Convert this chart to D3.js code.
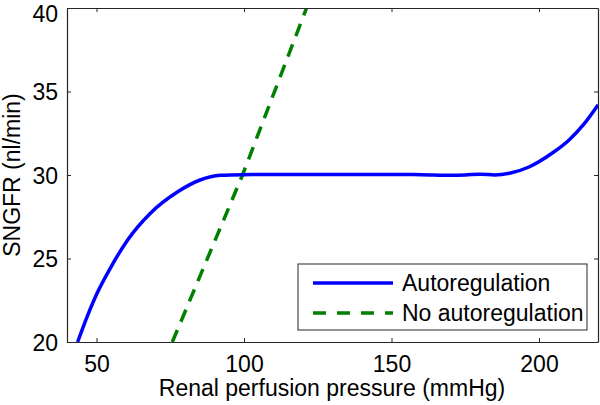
<!DOCTYPE html>
<html><head><meta charset="utf-8">
<script src="https://cdn.jsdelivr.net/npm/d3@7"></script>
<style>body{margin:0;background:#fff}svg{display:block}text{font-family:Arial,"Liberation Sans",sans-serif;fill:#000}</style>
</head><body><svg id="c" width="600" height="405"></svg>
<script>
const autoP = [43.6, 47, 50, 54.7, 60.5, 68.2, 77.4, 85.1, 91.9, 100, 110, 120, 130, 140, 150, 160, 170, 175, 180, 185, 190, 196.6, 204.4, 210.2, 215, 220];
const autoS = [20, 21.6, 22.85, 24.43, 26.1, 27.7, 28.98, 29.7, 29.98, 30.02, 30.03, 30.03, 30.03, 30.03, 30.03, 30.02, 29.98, 30.0, 30.05, 30.0, 30.1, 30.48, 31.3, 32.1, 33.0, 34.2];
const noAutoP = [75.7, 99.5, 121.2];
const noAutoS = [20, 30, 40];
const xTicks = [50, 100, 150, 200];
const yTicks = [20, 25, 30, 35, 40];
const legendLabels = ["Autoregulation", "No autoregulation"];

const svg = d3.select("#c");
const L = 67, R = 598, T = 8, B = 342;
const FS = 23;
const x = d3.scaleLinear().domain([40, 220]).range([L, R]);
const y = d3.scaleLinear().domain([20, 40]).range([B, T]);
const axisCol = "#262626";

svg.append("defs").append("clipPath").attr("id", "clip")
  .append("rect").attr("x", L).attr("y", T).attr("width", R - L).attr("height", B - T);

const plot = svg.append("g").attr("clip-path", "url(#clip)");
const line = d3.line().x(d => x(d[0])).y(d => y(d[1])).curve(d3.curveMonotoneX);
plot.append("path").datum(noAutoP.map((p, i) => [p, noAutoS[i]]))
  .attr("d", d3.line().x(d => x(d[0])).y(d => y(d[1])))
  .attr("fill", "none").attr("stroke", "#008000").attr("stroke-width", 3.5).attr("stroke-dasharray", "13,9");
plot.append("path").datum(autoP.map((p, i) => [p, autoS[i]]))
  .attr("d", line).attr("fill", "none").attr("stroke", "#0000ff").attr("stroke-width", 3.5);

// axes
const tl = 4;
const gB = svg.append("g").attr("transform", `translate(0,${B})`)
  .call(d3.axisBottom(x).tickValues(xTicks).tickSizeInner(-tl).tickSizeOuter(0));
const gT = svg.append("g").attr("transform", `translate(0,${T})`)
  .call(d3.axisTop(x).tickValues(xTicks).tickSizeInner(-tl).tickSizeOuter(0).tickFormat(""));
const gL = svg.append("g").attr("transform", `translate(${L},0)`)
  .call(d3.axisLeft(y).tickValues(yTicks).tickSizeInner(-tl).tickSizeOuter(0).tickPadding(9));
const gR = svg.append("g").attr("transform", `translate(${R},0)`)
  .call(d3.axisRight(y).tickValues(yTicks).tickSizeInner(-tl).tickSizeOuter(0).tickFormat(""));
[gB, gT, gL, gR].forEach(g => {
  g.select(".domain").attr("stroke", axisCol).attr("stroke-width", 1.2);
  g.selectAll(".tick line").attr("stroke", axisCol).attr("stroke-width", 1);
  g.selectAll(".tick text").attr("font-size", FS).attr("fill", "#000").attr("font-family", "Arial, 'Liberation Sans', sans-serif");
});
gB.selectAll(".tick text").attr("y", 30).attr("dy", 0);
gL.selectAll(".tick text").attr("dy", d => d === 40 ? "0.6em" : "0.35em");

svg.append("text").attr("x", 332).attr("y", 396).attr("text-anchor", "middle")
  .attr("font-size", FS).text("Renal perfusion pressure (mmHg)");
svg.append("text").attr("transform", `translate(20,${(T + B) / 2}) rotate(-90)`).attr("text-anchor", "middle")
  .attr("font-size", FS).text("SNGFR (nl/min)");

// legend
const lg = svg.append("g");
lg.append("rect").attr("x", 298).attr("y", 264).attr("width", 289).attr("height", 66)
  .attr("fill", "#fff").attr("stroke", axisCol).attr("stroke-width", 1);
const cols = ["#0000ff", "#008000"], dash = [null, "13,11"];
legendLabels.forEach((lab, i) => {
  const yy = 283 + i * 30;
  lg.append("line").attr("x1", 313).attr("x2", 393).attr("y1", yy).attr("y2", yy)
    .attr("stroke", cols[i]).attr("stroke-width", 3.5).attr("stroke-dasharray", dash[i]);
  lg.append("text").attr("x", 402).attr("y", yy + 8).attr("font-size", FS).text(lab);
});
</script></body></html>
